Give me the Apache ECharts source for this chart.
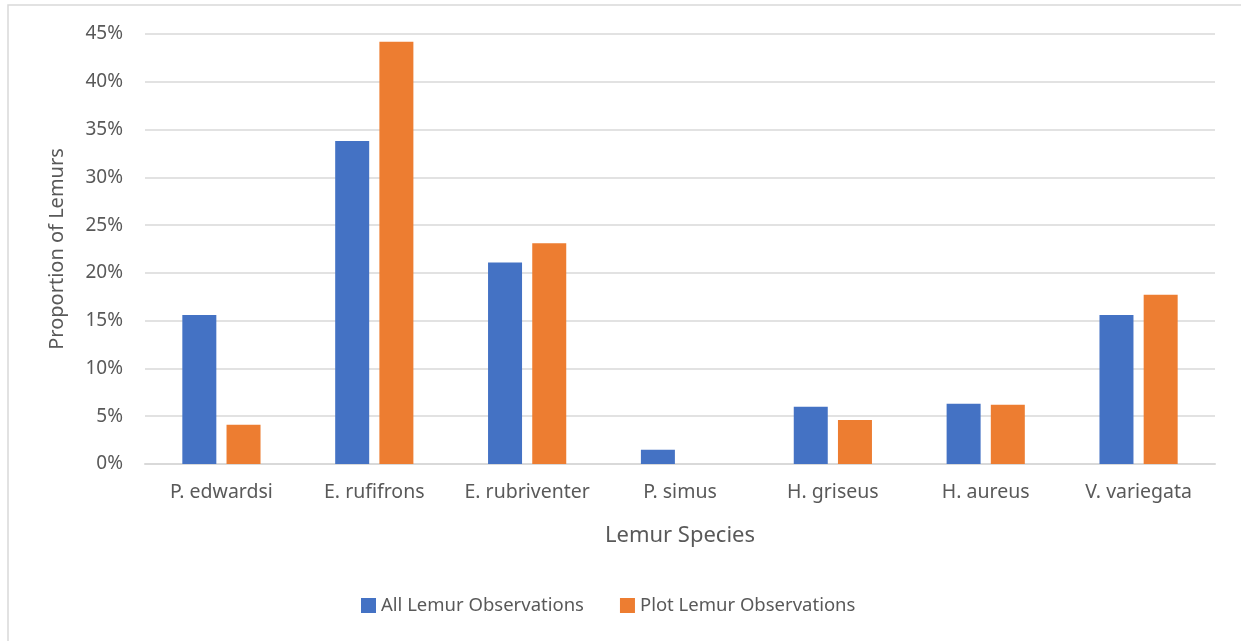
<!DOCTYPE html>
<html>
<head>
<meta charset="utf-8">
<script src="https://cdn.jsdelivr.net/npm/echarts@6/dist/echarts.min.js"></script>
<style>
  html, body { margin: 0; padding: 0; background: #fff; }
  #chart { width: 1241px; height: 641px; }
</style>
</head>
<body>
<div id="chart"></div>
<script>
// Lemur species on the category axis
const species = ['P. edwardsi', 'E. rufifrons', 'E. rubriventer', 'P. simus', 'H. griseus', 'H. aureus', 'V. variegata'];
// Proportion of lemurs (%) per species
const allObservations = [15.6, 33.8, 21.1, 1.5, 6.0, 6.3, 15.6];
const plotObservations = [4.1, 44.2, 23.1, 0, 4.6, 6.2, 17.7];
const seriesNames = ['All Lemur Observations', 'Plot Lemur Observations'];

const FONT = 'Noto Sans';
const TEXT = '#595959';
const chart = echarts.init(document.getElementById('chart'));

chart.setOption({
  animation: false,
  backgroundColor: '#fff',
  textStyle: { fontFamily: FONT },
  graphic: [{
    type: 'rect',
    shape: { x: 8, y: 5, width: 1260, height: 660 },
    style: { fill: 'none', stroke: '#d9d9d9', lineWidth: 1.5 },
    silent: true
  }],
  grid: { left: 145, right: 26, top: 34, bottom: 177 },
  legend: {
    bottom: 21,
    left: 356,
    itemWidth: 15,
    itemHeight: 15,
    itemGap: 36,
    icon: 'rect',
    textStyle: { color: TEXT, fontSize: 18.5, fontFamily: FONT },
    data: seriesNames
  },
  xAxis: {
    type: 'category',
    data: species,
    name: 'Lemur Species',
    nameLocation: 'middle',
    nameGap: 61,
    nameTextStyle: { color: TEXT, fontSize: 22, fontFamily: FONT },
    axisLine: { lineStyle: { color: '#d9d9d9', width: 2 } },
    axisTick: { show: false },
    axisLabel: { color: TEXT, fontSize: 19.5, margin: 18, interval: 0, fontFamily: FONT }
  },
  yAxis: {
    type: 'value',
    min: 0,
    max: 45,
    interval: 5,
    name: 'Proportion of Lemurs',
    nameLocation: 'middle',
    nameGap: 78,
    nameTextStyle: { color: TEXT, fontSize: 20, fontFamily: FONT },
    axisLine: { show: false },
    axisTick: { show: false },
    axisLabel: { color: TEXT, fontSize: 19, margin: 22, formatter: '{value}%', fontFamily: FONT },
    splitLine: { lineStyle: { color: '#d9d9d9', width: 1.5 } }
  },
  series: [
    {
      name: seriesNames[0],
      type: 'bar',
      data: allObservations,
      barWidth: 34,
      barGap: '30%',
      itemStyle: { color: '#4472C4' }
    },
    {
      name: seriesNames[1],
      type: 'bar',
      data: plotObservations,
      barWidth: 34,
      itemStyle: { color: '#ED7D31' }
    }
  ]
});
</script>
</body>
</html>
